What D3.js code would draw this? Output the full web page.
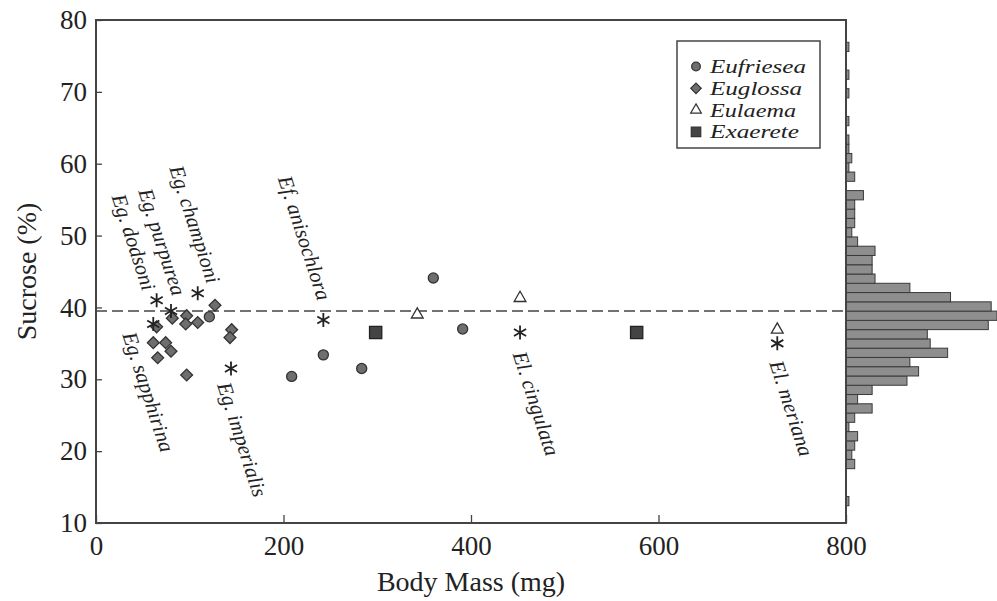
<!DOCTYPE html>
<html>
<head>
<meta charset="utf-8">
<script src="https://cdn.jsdelivr.net/npm/d3@7"></script>
<style>
  body { margin: 0; background: #fff; }
  svg text { font-family: "Liberation Serif", "DejaVu Serif", serif; fill: #222; }
</style>
</head>
<body>
<div id="chart"><svg width="997" height="601"></svg></div>
<script>
// data: [body mass (mg), sucrose (%)]
const eufriesea = [[120.9, 38.7], [208.7, 30.4], [242.5, 33.4], [283.4, 31.5], [359.8, 44.1], [391.1, 37.0]];
const euglossa = [[126.9, 40.3], [96.7, 38.85], [81.4, 38.5], [95.7, 37.7], [108.5, 37.9], [64.7, 37.3],
    [144.7, 36.9], [142.9, 35.8], [61.1, 35.1], [74.3, 35.1], [80, 33.9], [65.8, 33.0], [96.7, 30.6]];
const eulaema = [[342.7, 39.0], [452.3, 41.3], [726.7, 36.9]];
const exaerete = [[298.3, 36.5], [576.7, 36.5]];

const speciesNames = ["Eg. championi", "Eg. dodsoni", "Eg. purpurea", "Eg. sapphirina", "Eg. imperialis",
    "Ef. anisochlora", "El. cingulata", "El. meriana"];
const speciesMass = [108.5, 64.7, 80, 61.1, 144, 242.5, 452.3, 726.7];
const speciesSucrose = [41.97, 41.0, 39.5, 37.7, 31.5, 38.25, 36.5, 35.0];

const meanSucrose = 39.5;

// histogram of sucrose concentrations (right margin)
const histStart = 12.4;
const histBinWidth = 1.29;
const histCounts = [1, 0, 0, 0, 3, 2, 3, 4, 1, 3, 9, 4, 9, 21, 25, 22, 35, 29, 28, 49,
    52, 50, 36, 22, 10, 9, 9, 10, 4, 2, 3, 3, 3, 6, 0, 3, 1, 2, 1, 1, 0, 1, 0, 0, 1, 0, 1, 0, 0, 1];

const xTicks = [0, 200, 400, 600, 800];
const yTicks = [10, 20, 30, 40, 50, 60, 70, 80];
const legendNames = ["Eufriesea", "Euglossa", "Eulaema", "Exaerete"];

const svg = d3.select("#chart svg");
const plotLeft = 96, plotRight = 846, plotTop = 20, plotBottom = 523;

const x = d3.scaleLinear().domain([0, 800]).range([plotLeft, plotRight]);
const y = d3.scaleLinear().domain([10, 80]).range([plotBottom, plotTop]);
const hx = d3.scaleLinear().domain([0, 52]).range([plotRight, plotRight + 151]);

// histogram bars
svg.append("g").selectAll("rect")
    .data(histCounts.map((c, i) => ({ c, i })).filter(d => d.c > 0))
    .join("rect")
    .attr("x", plotRight)
    .attr("y", d => y(histStart + histBinWidth * (d.i + 1)))
    .attr("width", d => hx(d.c) - plotRight)
    .attr("height", d => y(histStart + histBinWidth * d.i) - y(histStart + histBinWidth * (d.i + 1)))
    .attr("fill", "#8e8e8e")
    .attr("stroke", "#3a3a3a")
    .attr("stroke-width", 1);

// axes
const yAxis = svg.append("g")
    .attr("transform", `translate(${plotLeft},0)`)
    .call(d3.axisLeft(y).tickValues(yTicks).tickSize(-6).tickPadding(9));
const xAxis = svg.append("g")
    .attr("transform", `translate(0,${plotBottom})`)
    .call(d3.axisBottom(x).tickValues(xTicks).tickSize(-8).tickPadding(13));
[xAxis, yAxis].forEach(a => {
    a.select(".domain").remove();
    a.selectAll(".tick line").attr("stroke", "#444").attr("stroke-width", 1.3);
    a.selectAll(".tick text").attr("font-size", "27px").attr("font-family", "Liberation Serif").attr("fill", "#222");
});

// frame
svg.append("rect")
    .attr("x", plotLeft).attr("y", plotTop)
    .attr("width", plotRight - plotLeft).attr("height", plotBottom - plotTop)
    .attr("fill", "none")
    .attr("stroke", "#444")
    .attr("stroke-width", 2);

// dashed mean line
svg.append("line")
    .attr("x1", plotLeft).attr("x2", plotRight)
    .attr("y1", y(meanSucrose)).attr("y2", y(meanSucrose))
    .attr("stroke", "#444")
    .attr("stroke-width", 1.6)
    .attr("stroke-dasharray", "11,5");

// axis titles
svg.append("text")
    .attr("x", (plotLeft + plotRight) / 2)
    .attr("y", 591)
    .attr("text-anchor", "middle")
    .attr("font-size", "28px")
    .text("Body Mass (mg)");
svg.append("text")
    .attr("transform", `translate(36,${(plotTop + plotBottom) / 2}) rotate(-90)`)
    .attr("text-anchor", "middle")
    .attr("font-size", "28px")
    .text("Sucrose (%)");

// markers
const circleSym = d3.symbol().type(d3.symbolCircle).size(80);
const diamondSym = d3.symbol().type(d3.symbolSquare).size(70);
const triangleSym = d3.symbol().type(d3.symbolTriangle).size(60);
const squareSym = d3.symbol().type(d3.symbolSquare).size(150);

function asterisk(r) {
    let p = "";
    [90, 30, 150].forEach(a => {
        const dx = r * Math.cos(a * Math.PI / 180), dy = r * Math.sin(a * Math.PI / 180);
        p += `M${-dx},${-dy}L${dx},${dy}`;
    });
    return p;
}

function drawGroup(data, pathGen, fill, stroke, rot) {
    svg.append("g").selectAll("path")
        .data(data)
        .join("path")
        .attr("d", pathGen)
        .attr("transform", d => `translate(${x(d[0])},${y(d[1])}) rotate(${rot})`)
        .attr("fill", fill)
        .attr("stroke", stroke)
        .attr("stroke-width", 1.3);
}

drawGroup(eufriesea, circleSym, "#6e6e6e", "#333", 0);
drawGroup(euglossa, diamondSym, "#6e6e6e", "#333", 45);
drawGroup(eulaema, triangleSym, "#fff", "#333", 0);
drawGroup(exaerete, squareSym, "#444", "#222", 0);

// species asterisks
svg.append("g").selectAll("path")
    .data(speciesMass)
    .join("path")
    .attr("d", asterisk(7))
    .attr("transform", (d, i) => `translate(${x(d)},${y(speciesSucrose[i])})`)
    .attr("fill", "none")
    .attr("stroke", "#222")
    .attr("stroke-width", 1.8);

// species labels, offset from their asterisk
const labelOffsets = [[-3, -69], [-23, -58], [-9, -69], [-5, 68], [11, 71], [-19, -82], [16, 71], [14, 65]];
svg.append("g").selectAll("text")
    .data(speciesNames)
    .join("text")
    .attr("transform", (d, i) => {
        const cx = x(speciesMass[i]) + labelOffsets[i][0];
        const cy = y(speciesSucrose[i]) + labelOffsets[i][1];
        return `translate(${cx},${cy}) rotate(72)`;
    })
    .attr("text-anchor", "middle")
    .attr("dominant-baseline", "central")
    .attr("font-size", "21px")
    .attr("font-style", "italic")
    .text(d => d);

// legend
const legend = svg.append("g");
legend.append("rect")
    .attr("x", 677).attr("y", 41)
    .attr("width", 143).attr("height", 107)
    .attr("fill", "#fff")
    .attr("stroke", "#444")
    .attr("stroke-width", 1.5);
const legendSyms = [
    { gen: d3.symbol().type(d3.symbolCircle).size(60), fill: "#6e6e6e", rot: 0 },
    { gen: d3.symbol().type(d3.symbolSquare).size(55), fill: "#6e6e6e", rot: 45 },
    { gen: d3.symbol().type(d3.symbolTriangle).size(50), fill: "#fff", rot: 0 },
    { gen: d3.symbol().type(d3.symbolSquare).size(90), fill: "#444", rot: 0 }
];
const legendTextWidths = [96, 92, 86, 89];
legendNames.forEach((name, i) => {
    const ly = 66.5 + i * 21.8;
    legend.append("path")
        .attr("d", legendSyms[i].gen())
        .attr("transform", `translate(696,${ly}) rotate(${legendSyms[i].rot})`)
        .attr("fill", legendSyms[i].fill)
        .attr("stroke", "#333")
        .attr("stroke-width", 1.2);
    legend.append("text")
        .attr("x", 710)
        .attr("y", ly)
        .attr("dominant-baseline", "central")
        .attr("font-size", "19px")
        .attr("font-style", "italic")
        .attr("textLength", legendTextWidths[i])
        .attr("lengthAdjust", "spacingAndGlyphs")
        .text(name);
});
</script>
</body>
</html>
